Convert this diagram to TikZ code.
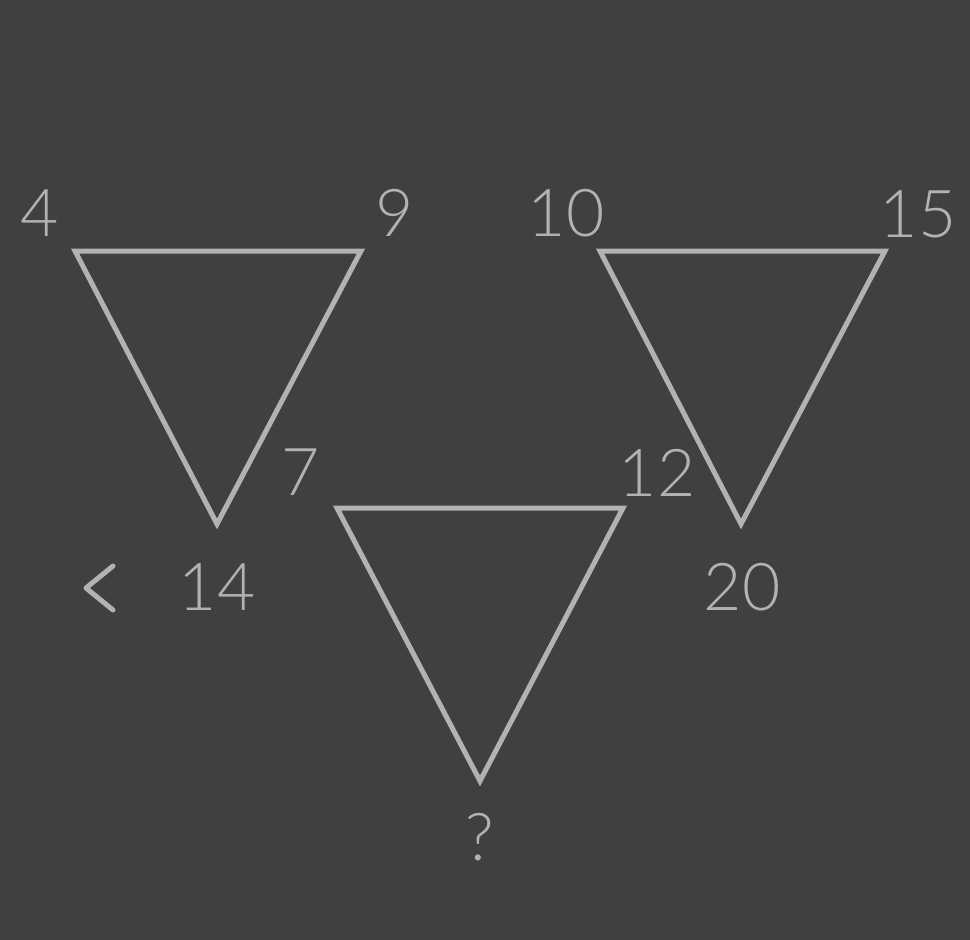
\documentclass[tikz,border=0pt]{standalone}
\usepackage{fontspec}
\setmainfont{Lato}[UprightFont=* Light]
\definecolor{bg}{HTML}{404040}
\definecolor{fg}{HTML}{B2B2B2}
\begin{document}
\begin{tikzpicture}[x=1pt,y=-1pt,
  tri/.style={draw=fg,line width=5pt,line join=miter},
  lbl/.style={text=fg,font=\fontsize{66}{66}\selectfont,anchor=base,inner sep=0pt}]
\fill[bg] (0,0) rectangle (970,940);
\useasboundingbox (0,0) rectangle (970,940);
\coordinate (a1) at (75,251); \coordinate (b1) at (361,251); \coordinate (c1) at (217,524);
\coordinate (a2) at (600,251); \coordinate (b2) at (885,251); \coordinate (c2) at (741,524);
\coordinate (a3) at (337,508); \coordinate (b3) at (623,508); \coordinate (c3) at (480,781);
\draw[tri] (a1) -- (b1) -- (c1) -- cycle;
\draw[tri] (a2) -- (b2) -- (c2) -- cycle;
\draw[tri] (a3) -- (b3) -- (c3) -- cycle;
\node[lbl] (n4) at (40,236) {4};
\node[lbl] (n9) at (395,236) {9};
\node[lbl] (n10) at (566,236) {10};
\node[lbl] (n15) at (918,237) {15};
\node[lbl] (n7) at (301,495) {7};
\node[lbl] (n12) at (657,496) {12};
\node[lbl] (n14) at (217,610) {14};
\node[lbl] (n20) at (742,610) {20};
\node[lbl] (nq) at (480,860) {?};
\coordinate (ch1) at (113,566); \coordinate (ch2) at (86,588); \coordinate (ch3) at (113,610);
\draw[fg,line width=5pt,line cap=round,line join=round] (ch1) -- (ch2) -- (ch3);
\end{tikzpicture}
\end{document}
